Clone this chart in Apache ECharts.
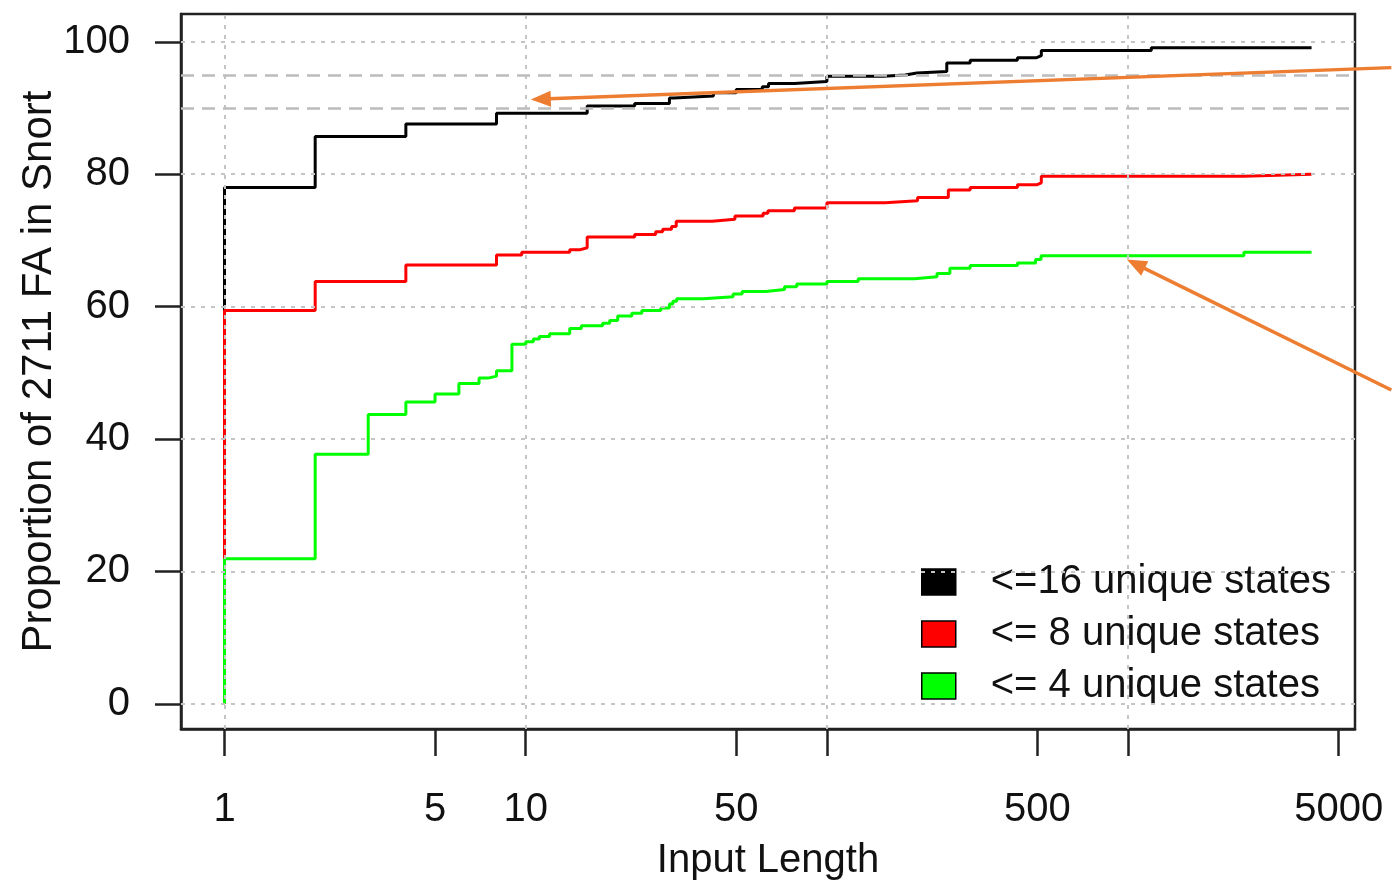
<!DOCTYPE html>
<html>
<head>
<meta charset="utf-8">
<script src="https://cdn.jsdelivr.net/npm/echarts@6/dist/echarts.min.js"></script>
<style>
  html, body { margin: 0; padding: 0; background: #fff; }
  #main { width: 1394px; height: 881px; }
</style>
</head>
<body>
<div id="main"></div>
<script>
const seriesNames = ['<=16 unique states', '<= 8 unique states', '<= 4 unique states'];
const seriesColors = ['#000000', '#ff0000', '#00ff00'];

// step breakpoints: the y value holds from x until the next x
const blackX = [1, 1, 2, 4, 8, 16, 23, 30, 31, 42, 50, 61, 64, 78, 100, 154, 182, 199, 250, 299, 429, 497, 515, 1194, 4065];
const blackY = [0, 78.0, 85.7, 87.6, 89.2, 90.3, 90.7, 91.5, 91.8, 92.3, 92.8, 93.2, 93.7, 94.0, 94.8, 95.0, 95.3, 95.5, 96.8, 97.2, 97.6, 97.9, 98.7, 99.1, 99.1];

const redX = [1, 1, 2, 4, 8, 9.7, 14, 15.2, 16, 23, 27, 28.5, 30.5, 31.6, 41.6, 49.5, 61.4, 63.7, 78, 100, 156, 200, 253, 299, 429, 497, 515, 2423, 4065];
const redY = [0, 59.4, 63.8, 66.3, 67.8, 68.2, 68.6, 68.9, 70.5, 70.9, 71.3, 71.7, 72.1, 72.9, 73.2, 73.7, 74.1, 74.5, 74.9, 75.7, 76.0, 76.5, 77.6, 78.0, 78.4, 78.7, 79.7, 80.0, 80.0];

const greenX = [1, 1, 2, 3, 4, 5, 6, 7, 7.5, 8, 9, 10, 10.6, 11.1, 12, 14, 15.3, 18, 19, 20.2, 22.5, 24.3, 28.1, 30, 30.8, 31.7, 38.9, 48.8, 52.3, 62.7, 72.3, 79.4, 100, 127, 195, 232, 256, 299, 429, 493, 514, 2423, 4065];
const greenY = [0, 21.9, 37.7, 43.7, 45.6, 46.8, 48.4, 49.2, 49.5, 50.3, 54.3, 54.7, 55.1, 55.5, 55.9, 56.7, 57.1, 57.5, 57.9, 58.6, 59.0, 59.4, 59.8, 60.4, 60.8, 61.2, 61.5, 61.9, 62.3, 62.6, 63.0, 63.4, 63.8, 64.2, 64.5, 65.0, 65.8, 66.2, 66.6, 67.1, 67.7, 68.2, 68.2];

const xTicks = [1, 5, 10, 50, 100, 500, 1000, 5000];
const xLabels = [1, 5, 10, 50, 500, 5000];
const yTicks = [0, 20, 40, 60, 80, 100];
const xGrid = [1, 10, 100, 1000];
const refLines = [90, 95];

// orange annotation arrows (tip, tail) in data units
const arrowTips = [[10.4, 91.3], [990, 67.1]];
const arrowTails = [[7480, 96.1], [7480, 47.4]];

const font = 'Liberation Sans, Arial, sans-serif';
const chart = echarts.init(document.getElementById('main'));

function pairs(xs, ys) {
  return xs.map((x, i) => [x, ys[i]]);
}

const stepSeries = [[blackX, blackY], [redX, redY], [greenX, greenY]].map((d, i) => ({
  name: seriesNames[i],
  type: 'line',
  step: 'end',
  symbol: 'none',
  z: 2,
  itemStyle: { color: seriesColors[i] },
  lineStyle: { color: seriesColors[i], width: 3 },
  data: pairs(d[0], d[1])
}));

const gridLineStyle = { color: '#c4c4c4', width: 2, type: [4, 6] };

const option = {
  animation: false,
  backgroundColor: '#fff',
  textStyle: { fontFamily: font },
  grid: {
    left: 181, right: 39, top: 14, bottom: 152,
    show: true, borderColor: '#222', borderWidth: 2.5,
    containLabel: false, outerBoundsMode: 'none'
  },
  legend: {
    orient: 'vertical',
    left: 921, top: 562,
    padding: 0,
    itemWidth: 34, itemHeight: 26, itemGap: 12,
    icon: 'rect',
    itemStyle: { borderColor: '#000', borderWidth: 1.5 },
    textStyle: { fontSize: 40, fontFamily: font, color: '#111', padding: [0, 0, 0, 30] },
    data: seriesNames
  },
  xAxis: {
    type: 'log',
    min: 0.717, max: 5666,
    name: 'Input Length',
    nameLocation: 'middle',
    nameGap: 112,
    nameMoveOverlap: false,
    nameTextStyle: { fontSize: 40, color: '#111', fontFamily: font },
    axisLine: { show: true, onZero: false, lineStyle: { color: '#222', width: 2.5 } },
    axisTick: { show: true, inside: false, length: 27, customValues: xTicks, lineStyle: { color: '#222', width: 2.5 } },
    axisLabel: {
      customValues: xLabels, margin: 61, fontSize: 40, color: '#111', fontFamily: font,
      formatter: v => String(Math.round(v))
    },
    splitLine: { show: false },
    minorTick: { show: false }
  },
  yAxis: {
    type: 'value',
    min: -3.8, max: 104.2,
    name: 'Proportion of 2711 FA in Snort',
    nameLocation: 'middle',
    nameGap: 121,
    nameMoveOverlap: false,
    nameTextStyle: { fontSize: 42, color: '#111', fontFamily: font },
    axisLine: { show: true, onZero: false, lineStyle: { color: '#222', width: 2.5 } },
    axisTick: { show: true, inside: false, length: 26, customValues: yTicks, lineStyle: { color: '#222', width: 2.5 } },
    axisLabel: { customValues: yTicks, margin: 51, fontSize: 40, color: '#111', fontFamily: font },
    splitLine: { show: false }
  },
  series: stepSeries.concat([{
    name: 'grid',
    type: 'line',
    data: [],
    z: 5,
    silent: true,
    markLine: {
      silent: true,
      symbol: ['none', 'none'],
      label: { show: false },
      emphasis: { disabled: true },
      lineStyle: gridLineStyle,
      data: xGrid.map(v => ({ xAxis: v }))
        .concat(yTicks.map(v => ({ yAxis: v })))
        .concat(refLines.map(v => ({ yAxis: v, lineStyle: { color: '#bcbcbc', width: 2.5, type: [13, 8] } })))
    }
  }])
};

chart.setOption(option);

// annotation arrows drawn on top, anchored through the axes
const arrowColor = '#ED7D31';
const graphics = [];
arrowTips.forEach((tip, i) => {
  const p = chart.convertToPixel({ gridIndex: 0 }, tip);
  const q = chart.convertToPixel({ gridIndex: 0 }, arrowTails[i]);
  const dx = q[0] - p[0], dy = q[1] - p[1];
  const len = Math.sqrt(dx * dx + dy * dy);
  const ux = dx / len, uy = dy / len;
  const headLen = 20, headW = 8;
  const bx = p[0] + ux * headLen, by = p[1] + uy * headLen;
  graphics.push({
    type: 'line', z: 100,
    shape: { x1: q[0], y1: q[1], x2: bx - ux * 2, y2: by - uy * 2 },
    style: { stroke: arrowColor, lineWidth: 3.5 }
  });
  graphics.push({
    type: 'polygon', z: 100,
    shape: { points: [[p[0], p[1]], [bx - uy * headW, by + ux * headW], [bx + uy * headW, by - ux * headW]] },
    style: { fill: arrowColor }
  });
});
chart.setOption({ graphic: graphics });
</script>
</body>
</html>
